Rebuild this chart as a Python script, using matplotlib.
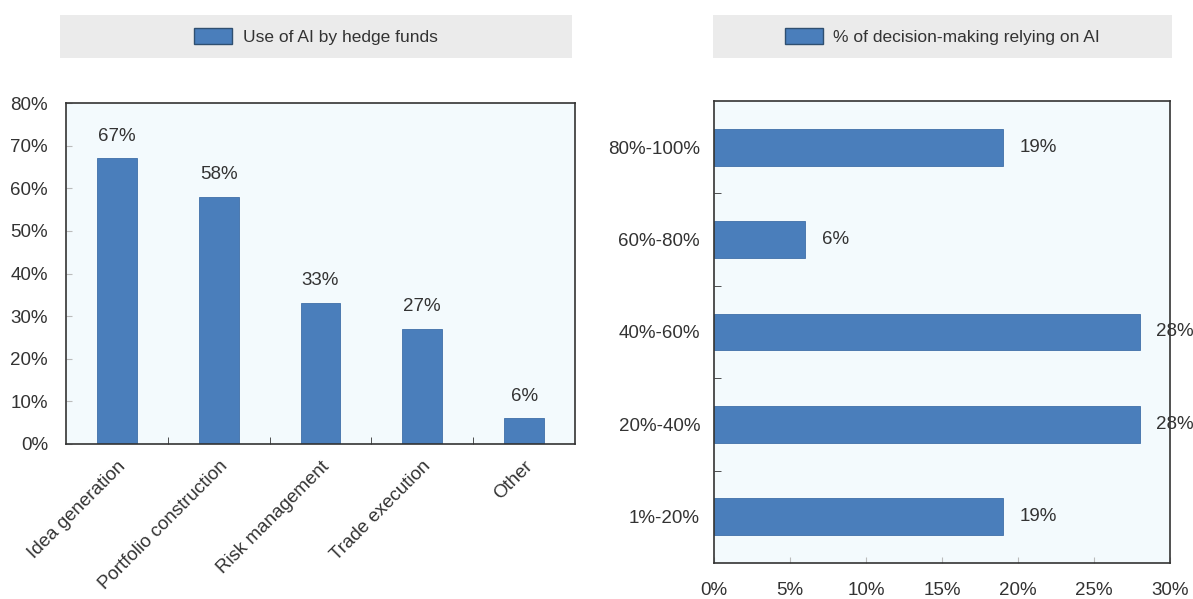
import matplotlib
matplotlib.use("Agg")
import matplotlib.pyplot as plt
from matplotlib.patches import Rectangle, Patch
from matplotlib.ticker import FuncFormatter
import numpy as np

plt.rcParams["font.family"] = ["Liberation Sans", "DejaVu Sans"]

# ── data ──────────────────────────────────────────────
uses = ["Idea generation", "Portfolio construction", "Risk management", "Trade execution", "Other"]
use_pct = [67, 58, 33, 27, 6]

shares = ["1%-20%", "20%-40%", "40%-60%", "60%-80%", "80%-100%"]
share_pct = [19, 28, 28, 6, 19]

left_title = "Use of AI by hedge funds"
right_title = "% of decision-making relying on AI"

BAR = "#4A7EBB"
FACE = "#F3FAFD"
TXT = "#333333"
GREY = "#EBEBEB"
FS = 13.5

fig = plt.figure(figsize=(11.93, 5.99), dpi=100)
pct = FuncFormatter(lambda v, _: f"{v:.0f}%")

# ── left: vertical bars ───────────────────────────────
ax1 = fig.add_axes([66 / 1193, 1 - 444 / 599, 509 / 1193, 341 / 599])
ax1.set_facecolor(FACE)
x = np.arange(len(uses))
ax1.bar(x, use_pct, width=0.39, color=BAR, edgecolor="#3F6FA8", linewidth=0.6)
for xi, v in zip(x, use_pct):
    ax1.annotate(f"{v}%", (xi, v), xytext=(0, 10), textcoords="offset points",
                 ha="center", va="bottom", fontsize=FS, color=TXT)
ax1.set_xlim(-0.5, len(uses) - 0.5)
ax1.set_ylim(0, 80)
ax1.set_yticks(np.arange(0, 81, 10))
ax1.yaxis.set_major_formatter(pct)
ax1.tick_params(axis="y", direction="in", length=4, color="#BBBBBB", pad=13,
                labelsize=FS, labelcolor=TXT)
ax1.set_xticks(x)
ax1.set_xticklabels(uses, rotation=45, ha="right", rotation_mode="anchor")
ax1.tick_params(axis="x", length=0, pad=10, labelsize=FS, labelcolor=TXT)
ax1.set_xticks(x[:-1] + 0.5, minor=True)
ax1.tick_params(axis="x", which="minor", direction="in", length=5, color="#333333")
for s in ax1.spines.values():
    s.set_color("#333333")
    s.set_linewidth(1.2)

# ── right: horizontal bars ────────────────────────────
ax2 = fig.add_axes([714 / 1193, 1 - 563 / 599, 456 / 1193, 462 / 599])
ax2.set_facecolor(FACE)
y = np.arange(len(shares))
ax2.barh(y, share_pct, height=0.4, color=BAR, edgecolor="#3F6FA8", linewidth=0.6)
for yi, v in zip(y, share_pct):
    ax2.annotate(f"{v}%", (v, yi), xytext=(12, 0), textcoords="offset points",
                 ha="left", va="center", fontsize=FS, color=TXT)
ax2.set_xlim(0, 30)
ax2.set_ylim(-0.5, len(shares) - 0.5)
ax2.set_xticks(np.arange(0, 31, 5))
ax2.xaxis.set_major_formatter(pct)
ax2.tick_params(axis="x", direction="in", length=4, color="#BBBBBB", pad=14,
                labelsize=FS, labelcolor=TXT)
ax2.set_yticks(y)
ax2.set_yticklabels(shares)
ax2.tick_params(axis="y", length=0, pad=10, labelsize=FS, labelcolor=TXT)
ax2.set_yticks(y[:-1] + 0.5, minor=True)
ax2.tick_params(axis="y", which="minor", direction="in", length=5, color="#333333")
for s in ax2.spines.values():
    s.set_color("#333333")
    s.set_linewidth(1.2)

# ── legend banners ────────────────────────────────────
for (x0, x1), title in [((60, 572), left_title), ((713, 1172), right_title)]:
    fx, fw = x0 / 1193, (x1 - x0) / 1193
    fy, fh = 1 - 58 / 599, 43 / 599
    fig.patches.append(Rectangle((fx, fy), fw, fh, transform=fig.transFigure,
                                 facecolor=GREY, edgecolor="none", zorder=0))
    fig.legend(handles=[Patch(facecolor=BAR, edgecolor="#2F4F70", linewidth=1)],
               labels=[title], loc="center", bbox_to_anchor=(fx + fw / 2, fy + fh / 2),
               frameon=False, fontsize=12.5, handlelength=2.2, handleheight=1.0,
               handletextpad=0.6, labelcolor=TXT)

fig.savefig("out.png", dpi=100)
